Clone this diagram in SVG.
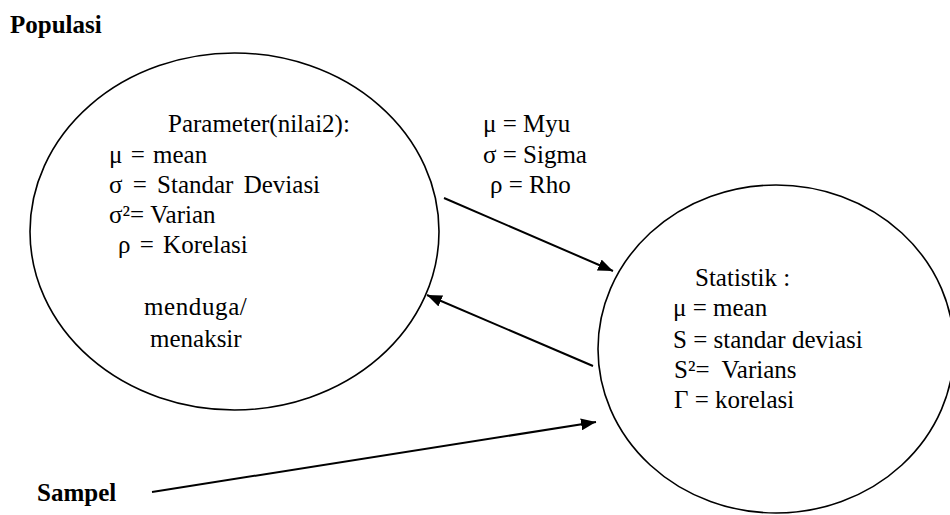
<svg xmlns="http://www.w3.org/2000/svg" width="950" height="515" viewBox="0 0 950 515">
<defs>
<marker id="ah" markerUnits="userSpaceOnUse" markerWidth="16" markerHeight="12" refX="15" refY="6" orient="auto">
<path d="M0,0 L15,6 L0,12 Z" fill="#000"/>
</marker>
</defs>
<rect width="950" height="515" fill="#fff"/>
<g id="node-parameter">
<ellipse cx="234.5" cy="231.5" rx="204.5" ry="178.5" fill="#fff" stroke="#000" stroke-width="1.6"/>
<text font-family="Liberation Serif" font-size="25" x="168" y="132">Parameter(nilai2):</text>
<text font-family="Liberation Serif" font-size="25" x="109" y="163" word-spacing="2">μ = mean</text>
<text font-family="Liberation Serif" font-size="25" x="109" y="193" word-spacing="4">σ = Standar Deviasi</text>
<text font-family="Liberation Serif" font-size="25" x="109" y="223">σ²= Varian</text>
<text font-family="Liberation Serif" font-size="25" x="118" y="253" word-spacing="3">ρ = Korelasi</text>
<text font-family="Liberation Serif" font-size="25" x="144" y="315" letter-spacing="0.6">menduga/</text>
<text font-family="Liberation Serif" font-size="25" x="150" y="347">menaksir</text>
</g>
<g id="label-greek">
<text font-family="Liberation Serif" font-size="25" x="483" y="132">μ = Myu</text>
<text font-family="Liberation Serif" font-size="25" x="483" y="163">σ = Sigma</text>
<text font-family="Liberation Serif" font-size="25" x="490" y="193">ρ = Rho</text>
</g>
<g id="node-statistik">
<ellipse cx="776" cy="349" rx="178" ry="164" fill="#fff" stroke="#000" stroke-width="1.6"/>
<text font-family="Liberation Serif" font-size="25" x="695" y="286">Statistik :</text>
<text font-family="Liberation Serif" font-size="25" x="673" y="316">μ = mean</text>
<text font-family="Liberation Serif" font-size="25" x="673" y="348">S = standar deviasi</text>
<text font-family="Liberation Serif" font-size="25" x="674" y="378" xml:space="preserve">S²=  Varians</text>
<text font-family="Liberation Serif" font-size="25" x="674" y="408">Γ = korelasi</text>
</g>
<g id="label-populasi"><text font-family="Liberation Serif" font-size="25" font-weight="bold" x="10" y="33">Populasi</text></g>
<g id="label-sampel"><text font-family="Liberation Serif" font-size="25" font-weight="bold" x="37" y="501">Sampel</text></g>
<g id="connectors" fill="none" stroke="#000" stroke-width="2">
<path d="M444,198 L613,271" marker-end="url(#ah)"/>
<path d="M593,366 L427,295" marker-end="url(#ah)"/>
<path d="M152,492 L596,422" marker-end="url(#ah)"/>
</g>
</svg>
